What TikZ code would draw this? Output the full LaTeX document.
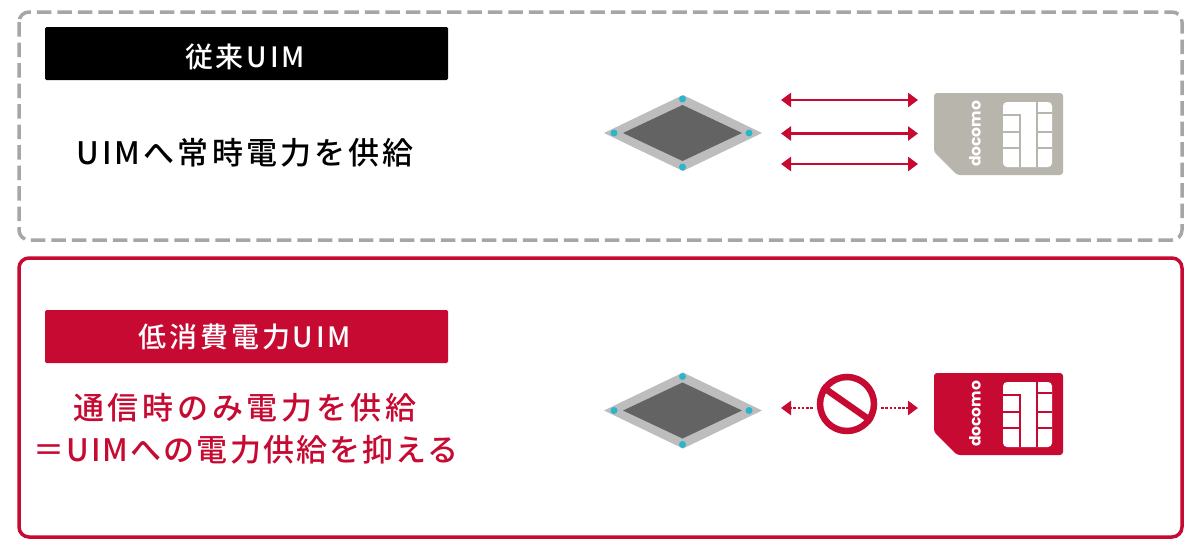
\documentclass[tikz,border=0pt]{standalone}
\usepackage{fontspec}
\setmainfont{Noto Sans CJK JP}
\newfontfamily\cjkone[LetterSpace=10]{Noto Sans CJK JP Medium}
\newfontfamily\cjktwo[LetterSpace=12]{Noto Sans CJK JP Medium}
\newfontfamily\cjkthree[LetterSpace=6.7]{Noto Sans CJK JP Medium}
\newfontfamily\cjkhead[LetterSpace=10]{Noto Sans CJK JP Medium}
\newfontfamily\logofont{Poppins}
\usetikzlibrary{arrows.meta}
\definecolor{dkred}{HTML}{C60A32}
\definecolor{simgray}{HTML}{B7B5AC}
\definecolor{dashgray}{HTML}{A6A6A6}
\definecolor{teal1}{HTML}{2BB5C8}
\definecolor{padgray}{HTML}{BDBDBD}
\definecolor{coregray}{HTML}{636363}
\tikzset{
  x=1pt,y=-1pt,
  framebox/.style={rounded corners=10pt,line width=3.5pt},
  headbar/.style={rounded corners=1.5pt},
  headtext/.style={font=\cjkhead\fontsize{28}{28}\selectfont,text=white,anchor=center,inner sep=0pt},
  bodytext/.style={anchor=center,inner sep=0pt},
  bothway/.style={dkred,line width=2.5pt,{Triangle[length=10pt,width=14pt]}-{Triangle[length=10pt,width=14pt]}},
  oneway/.style={dkred,line width=2.8pt,dash pattern=on 2.6pt off 1.6pt,-{Triangle[length=10pt,width=14pt]}},
  pad/.style={circle,fill=teal1,minimum size=7pt,inner sep=0pt,draw=none},
  simline/.style={line width=1.2pt},
}
\newcommand{\chipicon}[2]{%
  \fill[padgray] (604,#1) -- (683,#1-38) -- (762,#1) -- (683,#1+38) -- cycle;
  \fill[coregray] (623,#1) -- (682.5,#1-28) -- (742,#1) -- (682.5,#1+28) -- cycle;
  \node[pad] (#2w) at (614,#1) {};
  \node[pad] (#2e) at (749,#1) {};
  \node[pad] (#2n) at (682.5,#1-34) {};
  \node[pad] (#2s) at (682.5,#1+34) {};
}
\newcommand{\simcard}[3]{%
  \fill[#2,rounded corners=3pt] (934,#1) -- (1063,#1) -- (1063,#1+82) -- (957,#1+82) -- (934,#1+59) -- cycle;
  \fill[white,rounded corners=4pt] (1003,#1+9) rectangle (1052,#1+74);
  \draw[#2,simline] (1037,#1+9) -- (1037,#1+74);
  \draw[#2,simline] (1003,#1+22) -- (1020,#1+22) -- (1020,#1+74);
  \draw[#2,simline] (1003,#1+39) -- (1020,#1+39);
  \draw[#2,simline] (1003,#1+55) -- (1020,#1+55);
  \draw[#2,simline] (1037,#1+20) -- (1052,#1+20);
  \draw[#2,simline] (1037,#1+39) -- (1052,#1+39);
  \draw[#2,simline] (1037,#1+55) -- (1052,#1+55);
  \node[rotate=90,text=white,inner sep=0pt,font=\logofont\bfseries\fontsize{15.5}{15.5}\selectfont] (#3) at (975,#1+41) {docomo};
}
\begin{document}
\begin{tikzpicture}
\useasboundingbox (0,0) rectangle (1200,549);
\fill[white] (0,0) rectangle (1200,549);
\draw[framebox,dashgray,dash pattern=on 14.5pt off 6pt] (19,12) rectangle (1182,240);
\draw[framebox,dkred] (19,258) rectangle (1182,537);
\fill[black,headbar] (45,27) rectangle (448,80);
\node[headtext] (h1) at (245,57) {従来UIM};
\fill[dkred,headbar] (45,310) rectangle (448,363);
\node[headtext] (h2) at (245,337) {低消費電力UIM};
\node[bodytext,font=\cjkone\fontsize{31}{31}\selectfont] (t1) at (245,153) {UIMへ常時電力を供給};
\node[bodytext,text=dkred,font=\cjktwo\fontsize{31}{31}\selectfont] (t2) at (245,408) {通信時のみ電力を供給};
\node[bodytext,text=dkred,font=\cjkthree\fontsize{31}{31}\selectfont] (t3) at (246,450) {＝UIMへの電力供給を抑える};
\chipicon{133}{a}
\simcard{93}{simgray}{s1}
\coordinate (a1l) at (781,100); \coordinate (a1r) at (918,100);
\coordinate (a2l) at (781,133.5); \coordinate (a2r) at (918,133.5);
\coordinate (a3l) at (781,164); \coordinate (a3r) at (918,164);
\draw[bothway] (a1l) -- (a1r);
\draw[bothway] (a2l) -- (a2r);
\draw[bothway] (a3l) -- (a3r);
\chipicon{410.5}{b}
\simcard{373}{dkred}{s2}
\node[circle,draw=dkred,line width=6.5pt,minimum size=54pt,inner sep=0pt] (ban) at (847,404) {};
\draw[dkred,line width=6.5pt] (ban.145) -- (ban.-35);
\coordinate (bl) at (781,408); \coordinate (br) at (918,408);
\draw[oneway] (ban.west |- bl) ++(-4,0) coordinate (bl0) (bl0) -- (bl);
\draw[oneway] (ban.east |- br) ++(4,0) coordinate (br0) (br0) -- (br);
\end{tikzpicture}
\end{document}
